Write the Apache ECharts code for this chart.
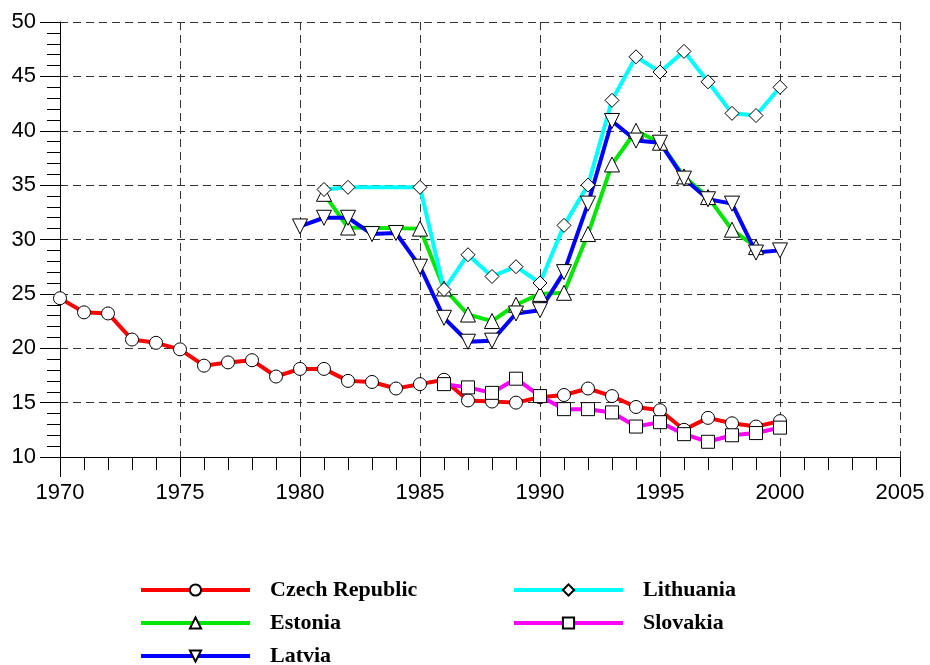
<!DOCTYPE html>
<html><head><meta charset="utf-8">
<script src="https://cdn.jsdelivr.net/npm/echarts@6/dist/echarts.min.js"></script>
<style>html,body{margin:0;padding:0;background:#fff}#c{width:930px;height:665px}</style>
</head><body><div id="c"></div>
<script>
const xTicks = [1970, 1975, 1980, 1985, 1990, 1995, 2000, 2005];
const yTicks = [10, 15, 20, 25, 30, 35, 40, 45, 50];

const czechYears = [1970,1971,1972,1973,1974,1975,1976,1977,1978,1979,1980,1981,1982,1983,1984,1985,1986,1987,1988,1989,1990,1991,1992,1993,1994,1995,1996,1997,1998,1999,2000];
const czechValues = [24.6,23.3,23.2,20.8,20.5,19.9,18.4,18.7,18.9,17.4,18.1,18.1,17.0,16.9,16.3,16.7,17.1,15.2,15.1,15.0,15.5,15.7,16.3,15.6,14.6,14.3,12.5,13.6,13.1,12.8,13.3];

const estoniaYears = [1981,1982,1985,1986,1987,1988,1989,1990,1991,1992,1993,1994,1995,1996,1997,1998,1999];
const estoniaValues = [34.2,31.1,31.0,25.5,23.1,22.5,24.0,25.0,25.1,30.5,36.9,40.0,38.9,35.8,33.9,30.9,29.3];

const latviaYears = [1980,1981,1982,1983,1984,1985,1986,1987,1988,1989,1990,1991,1992,1993,1994,1995,1996,1997,1998,1999,2000];
const latviaValues = [31.2,32.0,32.0,30.5,30.6,27.5,22.8,20.6,20.7,23.2,23.5,27.0,33.3,40.9,39.1,38.9,35.6,33.7,33.3,28.8,29.0];

const lithuaniaYears = [1981,1982,1985,1986,1987,1988,1989,1990,1991,1992,1993,1994,1995,1996,1997,1998,1999,2000];
const lithuaniaValues = [34.6,34.8,34.8,25.4,28.6,26.6,27.5,26.0,31.3,35.0,42.8,46.8,45.4,47.3,44.5,41.6,41.4,44.0];

const slovakiaYears = [1986,1987,1988,1989,1990,1991,1992,1993,1994,1995,1996,1997,1998,1999,2000];
const slovakiaValues = [16.7,16.4,15.9,17.2,15.6,14.4,14.4,14.1,12.8,13.2,12.1,11.4,12.0,12.2,12.7];

const names = ['Czech Republic','Estonia','Latvia','Lithuania','Slovakia'];
const colors = ['#ff0000','#00e600','#0000ff','#00ffff','#ff00ff'];
const symbols = ['circle','triangle','triangle','diamond','rect'];
const rotates = [0,0,180,0,0];
const sizes = [13,15,15,14,13];
const yearSets = [czechYears, estoniaYears, latviaYears, lithuaniaYears, slovakiaYears];
const valueSets = [czechValues, estoniaValues, latviaValues, lithuaniaValues, slovakiaValues];

function pairs(xs, ys){ return xs.map((x,i)=>[x, ys[i]]); }

const series = names.map((n,i)=>({
  name: n, type: 'line',
  data: pairs(yearSets[i], valueSets[i]),
  symbol: symbols[i], symbolSize: sizes[i], symbolRotate: rotates[i],
  showAllSymbol: true,
  lineStyle: {color: colors[i], width: 4},
  itemStyle: {color: '#ffffff', borderColor: '#000000', borderWidth: 1},
  emphasis: {disabled: true},
  animation: false
}));

const gridStyle = {show: true, lineStyle: {color: '#333', type: [8,5], width: 1}};
const legendText = {fontFamily: 'Liberation Serif', fontWeight: 'bold', fontSize: 22, lineHeight: 14, color: '#000', padding: [0,0,0,15]};
const legendBase = {orient: 'vertical', top: 579, width: 300, height: 120, padding: 0, itemWidth: 109, itemHeight: 14, itemGap: 11,
  textStyle: legendText, selectedMode: false, lineStyle: {width: 4}};

const chart = echarts.init(document.getElementById('c'), null, {renderer: 'canvas'});
chart.setOption({
  animation: false,
  backgroundColor: '#fff',
  grid: {left: 60, top: 22, right: 30, bottom: 208, containLabel: false},
  xAxis: {
    type: 'value', min: xTicks[0], max: xTicks[xTicks.length-1], interval: 5,
    axisLine: {show: true, onZero: false, lineStyle: {color: '#000', width: 1}},
    axisTick: {show: true, length: 20, lineStyle: {color: '#000'}},
    minorTick: {show: true, splitNumber: 5, length: 13, lineStyle: {color: '#000'}},
    axisLabel: {fontFamily: 'Liberation Sans', fontSize: 22, color: '#000', margin: 25, formatter: v => String(v)},
    splitLine: gridStyle
  },
  yAxis: {
    type: 'value', min: yTicks[0], max: yTicks[yTicks.length-1], interval: 5,
    axisLine: {show: true, onZero: false, lineStyle: {color: '#000', width: 1}},
    axisTick: {show: true, length: 20, lineStyle: {color: '#000'}},
    minorTick: {show: true, splitNumber: 5, length: 13, lineStyle: {color: '#000'}},
    axisLabel: {fontFamily: 'Liberation Sans', fontSize: 22, color: '#000', margin: 24, formatter: v => String(v)},
    splitLine: gridStyle
  },
  legend: [
    Object.assign({data: names.slice(0,3), left: 139}, legendBase),
    Object.assign({data: names.slice(3), left: 512}, legendBase)
  ],
  series: series
});
</script></body></html>
